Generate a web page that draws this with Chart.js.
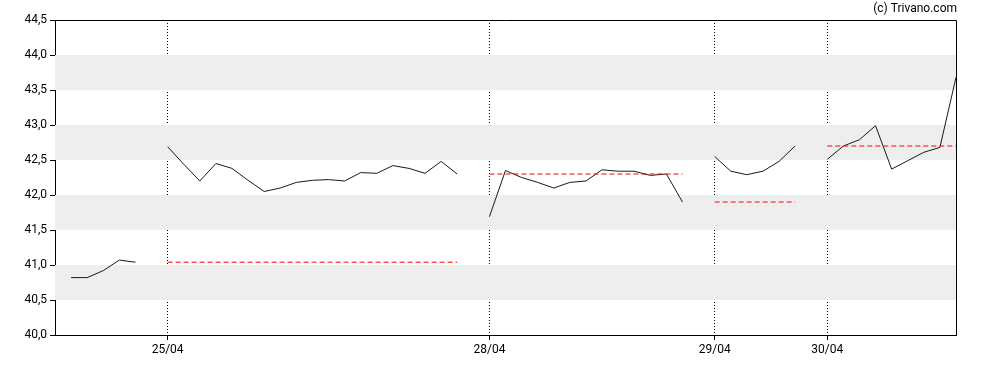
<!DOCTYPE html>
<html>
<head>
  <title>Trivano intraday</title>
  <script src="https://cdn.jsdelivr.net/npm/chart.js"></script>
  <style>
    body { margin: 0; background: #fff; }
    #wrap { width: 988px; height: 370px; }
  </style>
</head>
<body>
  <div id="wrap"><canvas id="chart"></canvas></div>

  <script>
    // one array of prices per trading day
    const days = ['24/04', '25/04', '28/04', '29/04', '30/04'];
    const day24 = [40.82, 40.82, 40.92, 41.07, 41.04];
    const day25 = [42.69, 42.44, 42.20, 42.45, 42.38, 42.21, 42.05, 42.10, 42.18, 42.21,
                   42.22, 42.20, 42.32, 42.31, 42.42, 42.38, 42.31, 42.48, 42.30];
    const day28 = [41.69, 42.35, 42.25, 42.18, 42.10, 42.18, 42.20, 42.36, 42.34, 42.34,
                   42.28, 42.30, 41.90];
    const day29 = [42.55, 42.34, 42.29, 42.34, 42.48, 42.70];
    const day30 = [42.51, 42.70, 42.79, 42.99, 42.37, 42.49, 42.61, 42.68, 43.68];
    const prevClose = [null, 41.04, 42.30, 41.90, 42.70];

    const yTicks = [40.0, 40.5, 41.0, 41.5, 42.0, 42.5, 43.0, 43.5, 44.0, 44.5];
    const bands = [[40.5, 41.0], [41.5, 42.0], [42.5, 43.0], [43.5, 44.0]];

    // build one slot per quote, with an empty slot between days
    const dayPrices = [day24, day25, day28, day29, day30];
    let labels = [''];
    let prices = [null];
    let refLine = [null];
    dayPrices.forEach((arr, d) => {
      if (d > 0) { labels.push(''); prices.push(null); refLine.push(null); }
      arr.forEach((v, i) => {
        labels.push(i === 0 && d > 0 ? days[d] : '');
        prices.push(v);
        refLine.push(prevClose[d]);
      });
    });

    const dayTick = (c) => (c.tick && c.tick.label) ? '#000' : 'transparent';

    const bandsPlugin = {
      id: 'bands',
      beforeDatasetsDraw(chart) {
        const { ctx, chartArea, scales } = chart;
        ctx.save();
        ctx.fillStyle = '#eeeeee';
        bands.forEach(b => {
          const y1 = scales.y.getPixelForValue(b[1]);
          const y0 = scales.y.getPixelForValue(b[0]);
          ctx.fillRect(chartArea.left, y1, chartArea.right - chartArea.left, y0 - y1);
        });
        ctx.restore();
      },
      afterDraw(chart) {
        const { ctx, chartArea } = chart;
        ctx.save();
        ctx.strokeStyle = '#000';
        ctx.lineWidth = 1;
        ctx.beginPath();
        ctx.moveTo(chartArea.left, chartArea.top + 0.5);
        ctx.lineTo(chartArea.right + 0.5, chartArea.top + 0.5);
        ctx.lineTo(chartArea.right + 0.5, chartArea.bottom);
        ctx.stroke();
        ctx.fillStyle = '#000';
        ctx.font = '12px Roboto';
        ctx.textAlign = 'right';
        ctx.textBaseline = 'middle';
        ctx.fillText('(c) Trivano.com', chartArea.right + 1, 9);
        ctx.restore();
      }
    };

    const ctx = document.getElementById('chart').getContext('2d');
    const chart = new Chart(ctx, {
      type: 'line',
      data: {
        labels: labels,
        datasets: [
          {
            data: refLine,
            borderColor: '#ff0000',
            borderWidth: 1,
            borderDash: [5, 3],
            pointRadius: 0,
            spanGaps: false
          },
          {
            data: prices,
            borderColor: '#1a1a1a',
            borderWidth: 1,
            pointRadius: 0,
            tension: 0,
            spanGaps: false
          }
        ]
      },
      options: {
        responsive: true,
        maintainAspectRatio: false,
        animation: false,
        layout: { padding: { top: 20, right: 32, left: 0, bottom: 0 } },
        plugins: { legend: { display: false }, tooltip: { enabled: false } },
        scales: {
          x: {
            type: 'category',
            offset: false,
            afterFit: (s) => { s.height = 35; },
            ticks: {
              autoSkip: false,
              maxRotation: 0,
              padding: 3,
              color: '#000',
              font: { family: 'Roboto', size: 12 }
            },
            grid: {
              color: dayTick,
              tickColor: dayTick,
              tickLength: 5,
              lineWidth: 1
            },
            border: { color: '#000', width: 1, dash: [1, 2] }
          },
          y: {
            min: 40,
            max: 44.5,
            afterFit: (s) => { s.width = 55; },
            afterBuildTicks: (s) => { s.ticks = yTicks.map(v => ({ value: v })); },
            ticks: {
              padding: 3,
              color: '#000',
              font: { family: 'Roboto', size: 12 },
              callback: (v) => v.toFixed(1).replace('.', ',')
            },
            grid: {
              drawOnChartArea: false,
              tickColor: '#000',
              tickLength: 5
            },
            border: { color: '#000', width: 1 }
          }
        }
      },
      plugins: [bandsPlugin]
    });
  </script>
</body>
</html>
